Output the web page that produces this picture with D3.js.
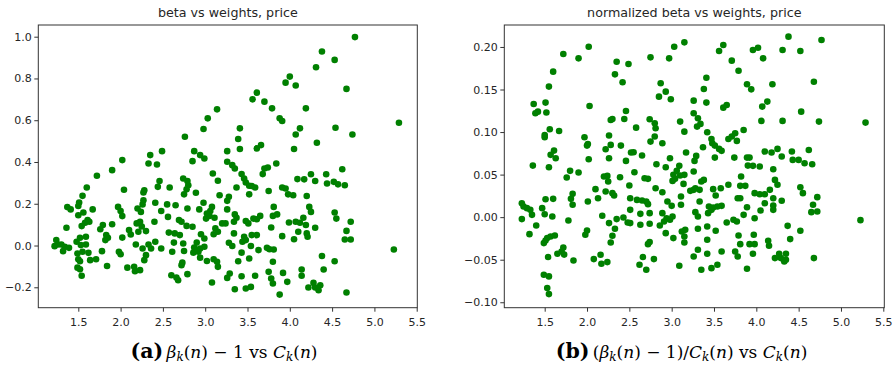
<!DOCTYPE html>
<html>
<head>
<meta charset="utf-8">
<script src="https://cdn.jsdelivr.net/npm/d3@7"></script>
<style>
  body { margin: 0; background: #fff; }
  svg { display: block; }
</style>
</head>
<body>
<svg id="chart" width="893" height="370"></svg>
<script>
// (a) beta_k(n) - 1 against C_k(n)
const pointsA = [
  [2.49,0.452],[2.35,0.433],[2.33,0.393],[2.43,0.388],[2.02,0.409],[1.90,0.361],[1.72,0.334],[1.60,0.278],
  [1.55,0.238],[2.04,0.267],[2.46,0.309],[2.44,0.281],[2.28,0.265],[2.27,0.254],[1.51,0.206],[1.50,0.189],
  [1.37,0.184],[1.41,0.173],[1.67,0.173],[1.56,0.158],[1.50,0.145],[1.97,0.185],[2.00,0.165],[2.02,0.141],
  [2.27,0.217],[2.26,0.197],[2.20,0.177],[2.24,0.161],[2.41,0.205],[2.48,0.165],[1.61,0.122],[1.58,0.109],
  [1.63,0.114],[1.36,0.085],[1.54,0.093],[1.79,0.098],[1.76,0.078],[1.90,0.102],[2.19,0.106],[2.23,0.114],
  [2.25,0.091],[2.30,0.069],[2.21,0.066],[2.40,0.114],[2.10,0.074],[2.12,0.053],[1.83,0.050],[1.85,0.037],
  [1.82,0.026],[2.02,0.038],[1.52,0.037],[1.59,0.042],[1.48,0.018],[1.59,0.005],[1.53,0.002],[1.24,0.026],
  [1.26,0.005],[1.22,-0.003],[1.30,0.005],[1.34,-0.006],[1.39,-0.011],[1.32,-0.027],[2.18,0.005],[2.26,-0.014],
  [2.33,0.005],[2.36,-0.014],[2.41,0.018],[2.48,-0.014],[1.78,-0.027],[1.98,-0.030],[2.00,-0.042],[1.49,-0.038],
  [1.55,-0.030],[1.62,-0.035],[1.64,-0.070],[1.71,-0.066],[1.50,-0.066],[1.52,-0.075],[2.28,-0.070],[2.30,-0.046],
  [1.84,-0.098],[1.49,-0.106],[1.52,-0.114],[1.54,-0.145],[2.08,-0.106],[2.16,-0.102],[2.17,-0.123],[2.23,-0.118],
  [4.00,0.809],[3.95,0.780],[3.61,0.732],[3.56,0.700],[3.70,0.689],[3.79,0.657],[3.14,0.652],[3.03,0.609],
  [2.98,0.558],[3.88,0.609],[3.91,0.596],[3.41,0.561],[3.39,0.510],[3.41,0.462],[2.76,0.521],[2.87,0.452],
  [2.94,0.433],[2.99,0.417],[2.85,0.404],[3.26,0.452],[3.61,0.465],[3.66,0.481],[3.26,0.401],[3.32,0.385],
  [3.35,0.369],[3.09,0.345],[3.15,0.310],[3.43,0.342],[3.46,0.321],[3.48,0.302],[3.52,0.286],[3.70,0.369],
  [3.74,0.374],[3.68,0.342],[3.84,0.393],[3.37,0.278],[3.55,0.285],[3.59,0.278],[2.74,0.321],[2.79,0.309],
  [2.80,0.289],[2.78,0.269],[2.75,0.245],[2.58,0.278],[2.89,0.253],[3.28,0.233],[3.26,0.214],[3.17,0.241],
  [3.52,0.245],[3.75,0.261],[3.91,0.278],[3.95,0.273],[3.98,0.245],[2.98,0.205],[2.55,0.197],[2.65,0.193],
  [2.79,0.177],[2.93,0.173],[3.08,0.185],[3.06,0.165],[3.02,0.153],[3.05,0.142],[3.01,0.129],[3.11,0.133],
  [3.24,0.106],[3.20,0.106],[3.35,0.149],[3.37,0.133],[3.34,0.114],[3.26,0.173],[3.48,0.117],[3.51,0.106],
  [3.57,0.129],[3.61,0.126],[3.65,0.142],[3.81,0.185],[3.85,0.149],[3.80,0.142],[3.78,0.086],[3.91,0.045],
  [3.99,0.110],[2.56,0.137],[2.69,0.122],[2.72,0.114],[2.78,0.094],[2.85,0.090],[2.57,0.062],[2.64,0.058],
  [2.70,0.050],[3.12,0.082],[3.10,0.054],[3.15,0.066],[2.95,0.054],[2.99,0.034],[3.34,0.058],[3.46,0.042],
  [3.48,0.026],[3.44,0.018],[3.55,0.050],[3.61,0.050],[2.63,0.014],[2.74,0.010],[2.90,0.014],[2.87,-0.010],
  [2.94,-0.014],[2.99,-0.006],[3.28,0.013],[3.32,-0.002],[3.54,-0.002],[3.63,-0.022],[3.73,-0.011],[3.76,-0.018],
  [2.61,-0.030],[2.75,-0.026],[2.92,-0.030],[2.86,-0.034],[3.43,-0.034],[3.81,-0.019],[2.94,-0.058],[3.02,-0.074],
  [3.10,-0.066],[3.14,-0.078],[3.15,-0.102],[3.39,-0.075],[3.52,-0.062],[3.80,-0.078],[2.73,-0.082],[2.72,-0.094],
  [2.60,-0.142],[2.66,-0.153],[2.68,-0.166],[2.79,-0.137],[3.29,-0.134],[3.26,-0.155],[3.43,-0.147],[3.59,-0.145],
  [3.08,-0.177],[3.35,-0.209],[3.48,-0.206],[3.54,-0.198],[3.75,-0.126],[3.78,-0.158],[3.80,-0.182],[3.92,-0.131],
  [3.97,-0.174],[3.88,-0.235],
  [4.77,0.998],[4.38,0.929],[4.53,0.889],[4.31,0.854],[4.67,0.750],[4.07,0.766],[4.19,0.657],[4.12,0.561],
  [4.07,0.532],[4.54,0.564],[4.74,0.532],[5.29,0.588],[4.05,0.462],[4.32,0.492],[4.62,0.365],[4.09,0.318],
  [4.17,0.317],[4.25,0.341],[4.30,0.309],[4.43,0.341],[4.44,0.297],[4.52,0.305],[4.57,0.293],[4.65,0.289],
  [4.04,0.241],[4.20,0.237],[4.23,0.185],[4.25,0.161],[4.53,0.158],[4.55,0.129],[4.72,0.114],[4.67,0.070],
  [4.65,0.029],[4.72,0.029],[4.16,0.133],[4.07,0.114],[4.12,0.109],[4.19,0.098],[4.10,0.066],[4.20,0.058],
  [4.21,0.042],[4.30,0.085],[4.05,0.030],[5.23,-0.019],[4.38,-0.050],[4.53,-0.075],[4.40,-0.115],[4.14,-0.115],
  [4.14,-0.145],[4.22,-0.201],[4.28,-0.179],[4.30,-0.201],[4.36,-0.190],[4.34,-0.214],[4.67,-0.225]
];

// (b) (beta_k(n) - 1) / C_k(n) against C_k(n)
const pointsB = [
  [2.02,0.2003],[1.72,0.1917],[1.90,0.1866],[1.60,0.1710],[1.55,0.1534],[2.35,0.1827],[2.49,0.1800],[2.33,0.1678],
  [2.42,0.1585],[1.37,0.1330],[1.51,0.1346],[1.39,0.1221],[1.42,0.1240],[1.52,0.1229],[2.03,0.1307],[2.46,0.1248],
  [2.44,0.1154],[2.28,0.1142],[2.30,0.1154],[1.56,0.1033],[1.67,0.1013],[1.50,0.0966],[1.50,0.0939],[1.97,0.0939],
  [2.00,0.0841],[2.01,0.0860],[2.26,0.0959],[2.28,0.0849],[2.22,0.0798],[2.40,0.0841],[2.26,0.0692],[2.02,0.0681],
  [1.61,0.0782],[1.57,0.0732],[1.63,0.0692],[1.55,0.0587],[1.36,0.0606],[2.46,0.0661],[2.52,0.0759],[1.80,0.0544],
  [1.76,0.0466],[1.90,0.0524],[2.20,0.0477],[2.24,0.0485],[2.25,0.0419],[2.39,0.0469],[2.50,0.0372],[2.10,0.0329],
  [2.13,0.0223],[2.22,0.0301],[2.30,0.0282],[2.32,0.0254],[1.83,0.0274],[1.81,0.0215],[1.83,0.0145],[2.01,0.0184],
  [1.51,0.0211],[1.60,0.0215],[1.23,0.0164],[1.25,0.0125],[1.29,0.0106],[1.33,0.0086],[1.35,0.0027],[1.47,0.0106],
  [1.50,0.0035],[1.59,0.0008],[1.23,-0.0023],[1.40,-0.0098],[1.32,-0.0200],[1.78,-0.0039],[2.18,0.0016],[2.26,-0.0070],
  [2.35,-0.0023],[2.43,-0.0004],[2.48,-0.0063],[2.33,-0.0137],[2.30,-0.0219],[2.28,-0.0297],[2.00,-0.0156],[1.98,-0.0207],
  [1.51,-0.0274],[1.49,-0.0305],[1.53,-0.0246],[1.57,-0.0227],[1.62,-0.0215],[1.72,-0.0356],[1.65,-0.0430],[1.70,-0.0403],
  [1.73,-0.0440],[1.54,-0.0469],[1.84,-0.0509],[2.08,-0.0493],[2.16,-0.0442],[2.17,-0.0548],[2.24,-0.0528],[1.49,-0.0677],
  [1.55,-0.0696],[1.53,-0.0833],[1.55,-0.0904],
  [3.15,0.2054],[3.03,0.2003],[2.75,0.1878],[2.97,0.1866],[3.61,0.2023],[3.56,0.1952],[3.71,0.1839],[3.79,0.1721],
  [3.96,0.1964],[3.41,0.1639],[3.38,0.1506],[3.41,0.1346],[2.87,0.1573],[2.93,0.1475],[2.85,0.1416],[2.99,0.1385],
  [3.26,0.1369],[3.65,0.1318],[3.61,0.1287],[3.89,0.1561],[3.94,0.1502],[3.26,0.1221],[3.31,0.1162],[3.34,0.1096],
  [3.30,0.1064],[3.10,0.1123],[3.15,0.1005],[2.74,0.1150],[2.80,0.1103],[2.81,0.1045],[2.80,0.0947],[2.75,0.0888],
  [2.89,0.0869],[2.58,0.1052],[3.42,0.0998],[3.47,0.0919],[3.48,0.0869],[3.51,0.0841],[3.56,0.0802],[3.59,0.0779],
  [3.37,0.0822],[3.71,0.0947],[3.75,0.0986],[3.67,0.0919],[3.77,0.0896],[3.85,0.1025],[2.55,0.0763],[2.65,0.0724],
  [3.17,0.0759],[2.98,0.0692],[3.29,0.0720],[3.27,0.0661],[3.51,0.0700],[3.74,0.0700],[3.89,0.0700],[3.92,0.0700],
  [3.90,0.0606],[3.96,0.0603],[2.82,0.0622],[2.93,0.0587],[3.09,0.0603],[3.06,0.0544],[3.02,0.0497],[3.04,0.0450],
  [3.01,0.0426],[3.10,0.0489],[3.15,0.0497],[2.56,0.0528],[3.26,0.0536],[2.68,0.0458],[2.72,0.0450],[3.14,0.0391],
  [3.82,0.0477],[3.35,0.0419],[3.38,0.0438],[2.81,0.0340],[2.89,0.0293],[3.22,0.0309],[3.26,0.0321],[3.28,0.0340],
  [3.33,0.0321],[3.49,0.0329],[3.58,0.0340],[3.67,0.0380],[3.52,0.0254],[3.81,0.0368],[3.87,0.0368],[3.78,0.0223],
  [3.81,0.0223],[3.98,0.0282],[3.11,0.0243],[2.51,0.0223],[2.59,0.0203],[2.65,0.0196],[2.70,0.0184],[2.72,0.0153],
  [2.95,0.0184],[3.00,0.0133],[3.11,0.0145],[3.33,0.0184],[3.44,0.0125],[3.49,0.0114],[3.54,0.0125],[3.59,0.0133],
  [3.47,0.0086],[3.43,0.0047],[3.89,0.0117],[2.51,0.0086],[2.63,0.0039],[2.74,0.0047],[2.89,0.0047],[2.94,-0.0012],
  [2.91,-0.0051],[2.98,-0.0031],[3.01,0.0008],[3.28,0.0059],[3.31,0.0008],[3.85,0.0027],[3.73,-0.0031],[3.77,-0.0051],
  [3.65,-0.0063],[3.98,-0.0012],[2.51,-0.0070],[2.63,-0.0090],[2.74,-0.0078],[2.86,-0.0098],[3.42,-0.0110],[3.52,-0.0160],
  [2.93,-0.0188],[3.12,-0.0168],[3.16,-0.0149],[3.15,-0.0227],[3.02,-0.0246],[3.31,-0.0137],[3.79,-0.0215],[3.81,-0.0317],
  [3.92,-0.0317],[3.97,-0.0207],[3.98,-0.0317],[2.74,-0.0293],[2.72,-0.0317],[3.15,-0.0297],[3.42,-0.0266],[3.31,-0.0383],
  [3.26,-0.0462],[3.42,-0.0430],[3.59,-0.0403],[3.75,-0.0403],[3.78,-0.0462],[3.96,-0.0430],[2.66,-0.0469],[2.62,-0.0559],
  [2.70,-0.0618],[2.79,-0.0493],[3.09,-0.0571],[3.35,-0.0618],[3.47,-0.0599],[3.54,-0.0559],[3.89,-0.0606],
  [4.38,0.2121],[4.77,0.2081],[4.31,0.1964],[4.52,0.1952],[4.02,0.1991],[4.08,0.1866],[4.19,0.1561],[4.68,0.1592],
  [4.13,0.1358],[4.07,0.1299],[4.53,0.1240],[4.06,0.1131],[4.31,0.1131],[4.74,0.1123],[5.29,0.1111],[4.10,0.0771],
  [4.18,0.0759],[4.25,0.0802],[4.30,0.0712],[4.42,0.0771],[4.43,0.0673],[4.50,0.0673],[4.57,0.0634],[4.62,0.0790],
  [4.66,0.0622],[4.04,0.0595],[4.20,0.0563],[4.22,0.0438],[4.25,0.0380],[4.52,0.0352],[4.55,0.0282],[4.72,0.0235],
  [4.67,0.0145],[4.65,0.0059],[4.72,0.0067],[4.04,0.0270],[4.10,0.0270],[4.16,0.0321],[4.20,0.0223],[4.20,0.0137],
  [4.20,0.0086],[4.10,0.0164],[4.05,0.0078],[4.30,0.0192],[5.23,-0.0035],[4.37,-0.0102],[4.52,-0.0160],[4.40,-0.0258],
  [4.14,-0.0278],[4.15,-0.0336],[4.22,-0.0481],[4.27,-0.0430],[4.29,-0.0481],[4.35,-0.0430],[4.35,-0.0501],[4.33,-0.0520],
  [4.68,-0.0481]
];

const xTicks = [1.5, 2.0, 2.5, 3.0, 3.5, 4.0, 4.5, 5.0, 5.5];
const yTicksA = [-0.2, 0.0, 0.2, 0.4, 0.6, 0.8, 1.0];
const yTicksB = [-0.10, -0.05, 0.00, 0.05, 0.10, 0.15, 0.20];
const titles = ['beta vs weights, price', 'normalized beta vs weights, price'];

const svg = d3.select('#chart');
const font = '"DejaVu Sans", sans-serif';
const serif = '"DejaVu Serif", "Liberation Serif", serif';

function scatter(data, cfg) {
  const x = d3.scaleLinear().domain(cfg.xDomain).range([cfg.left, cfg.right]);
  const y = d3.scaleLinear().domain(cfg.yDomain).range([cfg.bottom, cfg.top]);

  const xAxis = g => g
    .attr('transform', `translate(0,${cfg.bottom})`)
    .call(d3.axisBottom(x).tickValues(xTicks).tickFormat(d3.format('.1f')).tickSize(4).tickPadding(6.5))
    .call(g => g.select('.domain').remove());

  const yAxis = g => g
    .attr('transform', `translate(${cfg.left},0)`)
    .call(d3.axisLeft(y).tickValues(cfg.yTicks).tickFormat(d3.format(cfg.yFormat)).tickSize(4).tickPadding(2.5))
    .call(g => g.select('.domain').remove());

  const g = svg.append('g');

  g.append('g')
    .selectAll('circle')
    .data(data)
    .join('circle')
    .attr('cx', d => x(d[0]))
    .attr('cy', d => y(d[1]))
    .attr('r', 3.3)
    .attr('fill', '#008000');

  for (const ax of [xAxis, yAxis]) {
    g.append('g').call(ax)
      .attr('font-family', font)
      .attr('font-size', 11)
      .call(g => g.selectAll('line').attr('stroke', '#333'))
      .call(g => g.selectAll('text').attr('fill', '#262626'));
  }

  g.append('rect')
    .attr('x', cfg.left).attr('y', cfg.top)
    .attr('width', cfg.right - cfg.left).attr('height', cfg.bottom - cfg.top)
    .attr('fill', 'none').attr('stroke', '#333').attr('stroke-width', 1);

  g.append('text')
    .attr('x', (cfg.left + cfg.right) / 2).attr('y', 17)
    .attr('text-anchor', 'middle')
    .attr('font-family', font).attr('font-size', 12.7).attr('fill', '#262626')
    .text(cfg.title);

  // caption: bold label followed by math set in serif
  const cap = g.append('text')
    .attr('x', cfg.capX).attr('y', 357.5)
    .attr('text-anchor', 'middle')
    .attr('font-family', serif).attr('font-size', 17).attr('fill', '#000');
  for (const [t, style] of cfg.caption) {
    const s = cap.append('tspan').text(t);
    if (style === 'b') s.attr('font-weight', 'bold').attr('font-size', 20.5);
    if (style === 'i') s.attr('font-style', 'italic');
    if (style === 'sub') s.attr('font-style', 'italic').attr('font-size', 12).attr('dy', 3.5);
    if (style === 'up') s.attr('dy', -3.5);
  }
}

scatter(pointsA, {
  xDomain: [1.0272, 5.507], yDomain: [-0.2977, 1.056],
  left: 38.3, right: 417.3, top: 25, bottom: 307.7,
  yTicks: yTicksA, yFormat: '.1f', title: titles[0], capX: 224,
  caption: [['(a)', 'b'], ['\u2009', ''], ['β', 'i'], ['k', 'sub'], ['(', 'up'], ['n', 'i'], [') − 1 vs ', ''],
            ['C', 'i'], ['k', 'sub'], ['(', 'up'], ['n', 'i'], [')', '']]
});

scatter(pointsB, {
  xDomain: [1.0228, 5.5118], yDomain: [-0.1064, 0.2258],
  left: 504.3, right: 884.3, top: 25, bottom: 307.7,
  yTicks: yTicksB, yFormat: '.2f', title: titles[1], capX: 681.5,
  caption: [['(b)', 'b'], ['\u2009(', ''], ['β', 'i'], ['k', 'sub'], ['(', 'up'], ['n', 'i'], [') − 1)/', ''],
            ['C', 'i'], ['k', 'sub'], ['(', 'up'], ['n', 'i'], [') vs ', ''],
            ['C', 'i'], ['k', 'sub'], ['(', 'up'], ['n', 'i'], [')', '']]
});
</script>
</body>
</html>
